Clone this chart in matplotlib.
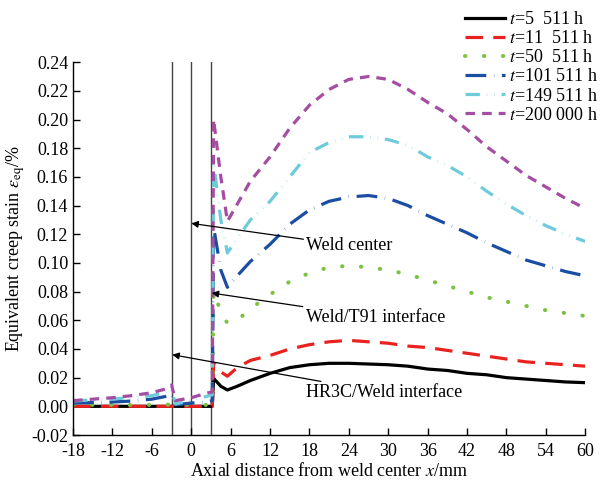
import numpy as np
import matplotlib
matplotlib.use("Agg")
import matplotlib.pyplot as plt

plt.rcParams["font.family"] = ["Liberation Serif", "DejaVu Serif"]
plt.rcParams["mathtext.fontset"] = "stix"
plt.rcParams["font.size"] = 13
plt.rcParams["axes.unicode_minus"] = False

# ---- data ----
x_pts = [-18, -15, -12, -9, -6, -4, -3, -2.4, 0, 2.4, 3.2, 3.4, 4.5, 5.5, 7, 9, 12, 15, 18,
         21, 24, 27, 30, 33, 36, 39, 42, 45, 48, 51, 54, 57, 60]

y_5511 = [0, 0, 0, 0, 0, 0, 0, 0, 0, 0, 0, 0.0195, 0.014, 0.0114, 0.014, 0.018, 0.023, 0.027,
          0.029, 0.030, 0.030, 0.0295, 0.029, 0.028, 0.026, 0.025, 0.023, 0.022, 0.020, 0.019,
          0.018, 0.017, 0.0165]
y_11511 = [0, 0, 0, 0, 0, 0, 0, 0, 0, 0, 0, 0.030, 0.024, 0.021, 0.027, 0.032, 0.0355, 0.040,
           0.043, 0.045, 0.046, 0.045, 0.044, 0.042, 0.041, 0.039, 0.037, 0.035, 0.033, 0.031,
           0.030, 0.029, 0.028]
y_50511 = [0.001, 0.001, 0.001, 0.001, 0.001, 0.001, 0.0015, 0.001, 0.001, 0.001, 0.002, 0.080,
           0.066, 0.058, 0.060, 0.068, 0.078, 0.087, 0.093, 0.097, 0.098, 0.097, 0.095, 0.092,
           0.088, 0.084, 0.080, 0.076, 0.073, 0.070, 0.067, 0.065, 0.063]
y_101511 = [0.0023, 0.0026, 0.003, 0.0037, 0.005, 0.0068, 0.0086, 0.001, 0.0023, 0.003, 0.004,
            0.125, 0.095, 0.083, 0.091, 0.101, 0.113, 0.127, 0.137, 0.143, 0.146, 0.147, 0.145,
            0.140, 0.133, 0.127, 0.121, 0.114, 0.108, 0.102, 0.098, 0.094, 0.091]
y_149511 = [0.0037, 0.0045, 0.0052, 0.006, 0.0075, 0.0095, 0.012, 0.0016, 0.004, 0.007, 0.008,
            0.170, 0.130, 0.107, 0.117, 0.130, 0.143, 0.160, 0.177, 0.184, 0.188, 0.188, 0.186,
            0.182, 0.174, 0.168, 0.160, 0.150, 0.141, 0.133, 0.126, 0.120, 0.115]
y_200000 = [0.004, 0.005, 0.006, 0.0075, 0.0095, 0.012, 0.0149, 0.004, 0.006, 0.0093, 0.010,
            0.200, 0.160, 0.129, 0.141, 0.157, 0.174, 0.194, 0.210, 0.221, 0.228, 0.230, 0.228,
            0.221, 0.212, 0.204, 0.193, 0.181, 0.171, 0.161, 0.153, 0.145, 0.138]

labels = ["$t$=5  511 h", "$t$=11  511 h", "$t$=50  511 h",
          "$t$=101 511 h", "$t$=149 511 h", "$t$=200 000 h"]
interfaces = [-3, 0, 3]

series = [y_5511, y_11511, y_50511, y_101511, y_149511, y_200000]
colors = ["#000000", "#e8231f", "#7cc242", "#1b4ea3", "#6ecbdc", "#a44da2"]
styles = ["-", (0, (5.5, 3.2)), (0, (0.1, 4.6)), (0, (6.5, 2.4, 0.1, 2.4)),
          (0, (4.5, 2.2, 0.1, 2.2, 0.1, 2.2)), (0, (3.0, 2.2))]
widths = [2.3, 2.3, 2.9, 2.3, 2.3, 2.3]

fig = plt.figure(figsize=(6.09, 4.82), dpi=100)
ax = fig.add_axes([0.12, 0.0975, 0.841, 0.7735])

for xv in interfaces:
    ax.axvline(xv, color="#444444", lw=1.0, zorder=1)

for ys, c, ls, w, lab in zip(series, colors, styles, widths, labels):
    ax.plot(x_pts, ys, color=c, ls=ls, lw=w, label=lab,
            dash_capstyle="round" if ls == styles[2] else "butt", zorder=2)

ax.set_xlim(-18, 60)
ax.set_ylim(-0.02, 0.24)
ax.set_xticks(np.arange(-18, 61, 6))
ax.set_yticks(np.arange(-0.02, 0.241, 0.02))
ax.set_yticklabels([f"{v:.2f}" for v in np.arange(-0.02, 0.241, 0.02)])
ax.tick_params(direction="in", length=5, width=1)
ax.tick_params(axis="x", pad=6)
for s in ["top", "right"]:
    ax.spines[s].set_visible(False)
for s in ["left", "bottom"]:
    ax.spines[s].set_linewidth(1.0)

ax.set_xlabel("Axial distance from weld center $x$/mm", labelpad=1)
ax.set_ylabel(r"Equivalent creep stain $\varepsilon_{\rm eq}$/%", labelpad=3)

arr = dict(arrowstyle="-|>", color="black", lw=0.9, mutation_scale=10, shrinkA=0, shrinkB=0)
ax.annotate("Weld center", xy=(0, 0.1276), xytext=(17.5, 0.112), va="center",
            arrowprops=arr)
ax.annotate("Weld/T91 interface", xy=(3.1, 0.079), xytext=(17.4, 0.062), va="center",
            arrowprops=arr)
ax.annotate("HR3C/Weld interface", xy=(-2.9, 0.036), xytext=(17.4, 0.0095), va="center",
            arrowprops=arr)

fig.legend(loc="upper right", bbox_to_anchor=(1.0, 1.0), frameon=False, handlelength=2.2,
           handletextpad=0.25, labelspacing=0.12, borderaxespad=0.2, fontsize=13)

fig.savefig("out.png", dpi=100)
